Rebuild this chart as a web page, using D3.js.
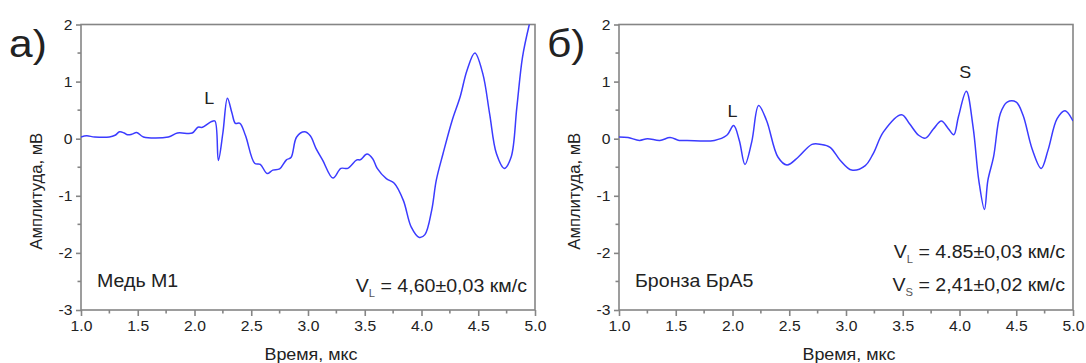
<!DOCTYPE html>
<html>
<head>
<meta charset="utf-8">
<script src="https://cdn.jsdelivr.net/npm/d3@7/dist/d3.min.js"></script>
<style>
  html, body { margin: 0; padding: 0; background: #fff; }
  svg { display: block; }
  text { font-family: 'Liberation Sans', Arial, sans-serif; fill: #222; }
</style>
</head>
<body>
<svg id="chart" width="1086" height="363"></svg>
<script>
// copper M1 trace (time, mks / amplitude, mV)
const cuTime = [1.0, 1.05, 1.12, 1.25, 1.3, 1.34, 1.38, 1.41, 1.45, 1.49, 1.55, 1.77, 1.85, 1.98, 2.03, 2.07, 2.15, 2.18,
  2.21, 2.25, 2.29, 2.33, 2.36, 2.40, 2.45, 2.53, 2.58, 2.64, 2.69, 2.75, 2.81, 2.85, 2.90, 2.97,
  3.02, 3.07, 3.13, 3.22, 3.29, 3.35, 3.43, 3.46, 3.52, 3.57, 3.61, 3.69, 3.76, 3.84, 3.91, 3.98,
  4.03, 4.09, 4.13, 4.19, 4.27, 4.34, 4.40, 4.47, 4.54, 4.60, 4.66, 4.73, 4.79, 4.84, 4.89, 4.95, 4.99];
const cuAmp = [0.03, 0.05, 0.03, 0.03, 0.06, 0.12, 0.1, 0.07, 0.08, 0.11, 0.03, 0.03, 0.1, 0.1, 0.2, 0.2, 0.3, 0.31,
  -0.38, 0.1, 0.71, 0.45, 0.27, 0.27, 0.05, -0.43, -0.45, -0.61, -0.55, -0.53, -0.37, -0.33, 0.03, 0.12,
  0.05, -0.17, -0.38, -0.69, -0.52, -0.52, -0.37, -0.37, -0.27, -0.35, -0.52, -0.7, -0.78, -1.08, -1.55, -1.73,
  -1.68, -1.25, -0.73, -0.26, 0.32, 0.73, 1.19, 1.5, 1.14, 0.44, -0.26, -0.52, -0.32, 0.55, 1.43, 2.0, 2.3];

// bronze BrA5 trace
const brTime = [1.0, 1.08, 1.18, 1.25, 1.36, 1.45, 1.53, 1.6, 1.84, 1.95, 2.01, 2.06, 2.11, 2.17, 2.23, 2.30,
  2.40, 2.48, 2.58, 2.70, 2.78, 2.86, 2.95, 3.05, 3.17, 3.24, 3.33, 3.49, 3.56, 3.64, 3.70, 3.77,
  3.84, 3.90, 3.95, 3.99, 4.06, 4.12, 4.17, 4.22, 4.25, 4.30, 4.36, 4.42, 4.50, 4.56, 4.64, 4.72,
  4.78, 4.86, 4.93, 5.0];
const brAmp = [0.03, 0.02, -0.03, 0.0, -0.03, 0.02, -0.03, -0.03, -0.03, 0.06, 0.23, -0.03, -0.45, -0.05, 0.58, 0.32,
  -0.32, -0.46, -0.32, -0.1, -0.1, -0.15, -0.38, -0.55, -0.47, -0.26, 0.12, 0.42, 0.26, 0.06, 0.01, 0.17,
  0.31, 0.18, 0.07, 0.38, 0.83, 0.2, -0.73, -1.24, -0.73, -0.32, 0.44, 0.64, 0.64, 0.41, -0.18, -0.52,
  -0.2, 0.35, 0.49, 0.31];

const xTicks = [1.0, 1.5, 2.0, 2.5, 3.0, 3.5, 4.0, 4.5, 5.0];
const yTicks = [-3, -2, -1, 0, 1, 2];
const xMinor = [1.25, 1.75, 2.25, 2.75, 3.25, 3.75, 4.25, 4.75];
const yMinor = [-2.5, -1.5, -0.5, 0.5, 1.5];

const panels = [
  { letter: 'а)', left: 81, right: 535, time: cuTime, amp: cuAmp, material: 'Медь М1',
    marks: [{ t: 'L', x: 2.13, y: 0.6 }],
    speeds: [{ sub: 'L', text: ' = 4,60±0,03 км/с', y: 292 }] },
  { letter: 'б)', left: 619, right: 1073, time: brTime, amp: brAmp, material: 'Бронза БрА5',
    marks: [{ t: 'L', x: 2.0, y: 0.38 }, { t: 'S', x: 4.05, y: 1.07 }],
    speeds: [{ sub: 'L', text: ' = 4.85±0,03 км/с', y: 258 }, { sub: 'S', text: ' = 2,41±0,02 км/с', y: 291 }] }
];

const svg = d3.select('#chart');
const plotTop = 24.5, plotBottom = 310;
const axisColor = '#858585';
const stretch = 1.12; // the source picture is slightly wider than tall

// text placed at (x, y), widened around its anchor
function label(parent, x, y, anchor) {
  return parent.append('text')
    .attr('transform', `translate(${x},${y}) scale(${stretch},1)`)
    .attr('text-anchor', anchor);
}

panels.forEach((p, i) => {
  const x = d3.scaleLinear().domain([1, 5]).range([p.left, p.right]);
  const y = d3.scaleLinear().domain([-3, 2]).range([plotBottom, plotTop]);
  const g = svg.append('g');

  g.append('clipPath').attr('id', `clip-${i}`)
    .append('rect').attr('x', p.left).attr('y', plotTop)
    .attr('width', p.right - p.left).attr('height', plotBottom - plotTop);

  // frame
  g.append('rect')
    .attr('x', p.left).attr('y', plotTop)
    .attr('width', p.right - p.left).attr('height', plotBottom - plotTop)
    .attr('fill', 'none').attr('stroke', axisColor).attr('stroke-width', 1.6);

  // x axis
  const xAxis = g.append('g').attr('transform', `translate(0,${plotBottom})`)
    .call(d3.axisBottom(x).tickValues(xTicks).tickFormat(d3.format('.1f')).tickSize(6).tickPadding(5));
  xAxis.append('g').selectAll('line').data(xMinor).join('line')
    .attr('x1', (d) => x(d)).attr('x2', (d) => x(d)).attr('y1', 0).attr('y2', 3.5);

  // y axis (plain hyphen for negatives, as in the source)
  const yAxis = g.append('g').attr('transform', `translate(${p.left},0)`)
    .call(d3.axisLeft(y).tickValues(yTicks).tickFormat((d) => String(d)).tickSize(5).tickPadding(3));
  yAxis.append('g').selectAll('line').data(yMinor).join('line')
    .attr('x1', 0).attr('x2', -3.5).attr('y1', (d) => y(d)).attr('y2', (d) => y(d));

  [xAxis, yAxis].forEach((a) => {
    a.select('.domain').remove();
    a.selectAll('line').attr('stroke', axisColor).attr('stroke-width', 1.6);
    a.selectAll('text').attr('font-family', "'Liberation Sans', Arial, sans-serif")
      .attr('font-size', 14.5).attr('fill', '#333')
      .attr('transform', 'scale(1.08,1)');
  });

  // trace
  const line = d3.line()
    .x((d) => x(d[0])).y((d) => y(d[1]))
    .curve(d3.curveCatmullRom.alpha(0.5));
  g.append('path')
    .datum(d3.zip(p.time, p.amp))
    .attr('clip-path', `url(#clip-${i})`)
    .attr('d', line)
    .attr('fill', 'none')
    .attr('stroke', '#3b3bff')
    .attr('stroke-width', 1.5);

  // panel letter
  label(g, p.left - 72, 57, 'start')
    .attr('font-family', "'DejaVu Sans', sans-serif")
    .attr('font-size', 38).attr('fill', '#111')
    .text(p.letter);

  // axis titles
  g.append('text')
    .attr('transform', `translate(${p.left - 39},${(plotTop + plotBottom) / 2 + 24}) rotate(-90) scale(1.04,1.08)`)
    .attr('text-anchor', 'middle')
    .attr('font-size', 16).attr('fill', '#333')
    .text('Амплитуда, мВ');
  label(g, (p.left + p.right) / 2 + 3, 360, 'middle')
    .attr('font-size', 16).attr('fill', '#333')
    .text('Время, мкс');

  // wave marks
  p.marks.forEach((m) => {
    label(g, x(m.x), y(m.y), 'middle')
      .attr('font-size', 16)
      .text(m.t);
  });

  // material
  label(g, p.left + 16, 287, 'start')
    .attr('font-size', 17.5)
    .text(p.material);

  // velocities
  p.speeds.forEach((s) => {
    const t = label(g, p.right - 8, s.y, 'end')
      .attr('font-size', 17.5);
    t.append('tspan').text('V');
    t.append('tspan').attr('font-size', 10).attr('dy', 5).attr('fill', '#555').text(s.sub);
    t.append('tspan').attr('dy', -5).text(s.text);
  });
});
</script>
</body>
</html>
